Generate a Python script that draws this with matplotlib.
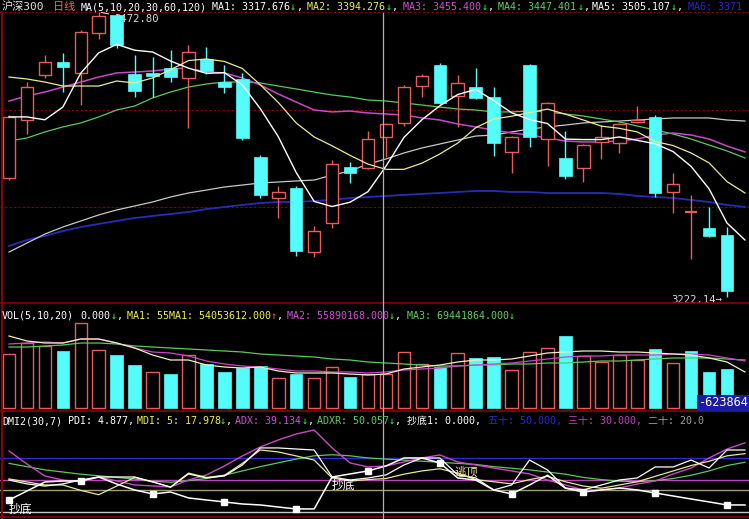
import matplotlib.pyplot as plt
from matplotlib.lines import Line2D

plt.rcParams['font.family'] = ['DejaVu Sans Mono', 'Noto Sans CJK SC']

W, H = 749, 519

# daily candles (HS300)
opens = [3326.8, 3377.8, 3417.4, 3428.8, 3419.2, 3454.3, 3470.2, 3418.3, 3419.2, 3423.5,
         3414.8, 3431.5, 3411.2, 3413.9, 3345.3, 3309.2, 3318.0, 3261.7, 3287.2, 3336.5,
         3335.6, 3362.9, 3375.2, 3407.7, 3426.2, 3398.9, 3406.8, 3398.0, 3349.7, 3426.2,
         3361.1, 3344.4, 3335.6, 3358.5, 3357.6, 3376.1, 3380.5, 3314.5, 3297.0, 3282.8,
         3276.7]
highs = [3382.2, 3411.2, 3435.0, 3436.7, 3457.0, 3472.8, 3471.0, 3435.0, 3433.2, 3439.4,
         3443.8, 3442.0, 3426.2, 3419.2, 3347.0, 3319.8, 3319.8, 3284.6, 3342.6, 3340.9,
         3368.1, 3374.8, 3408.6, 3418.3, 3427.9, 3417.4, 3423.5, 3406.8, 3363.5, 3427.1,
         3393.5, 3368.1, 3356.5, 3373.4, 3375.0, 3390.1, 3382.2, 3331.2, 3311.9, 3301.3,
         3283.7]
lows = [3325.0, 3365.5, 3414.8, 3402.4, 3391.0, 3449.1, 3441.1, 3398.0, 3398.0, 3411.2,
        3370.8, 3418.3, 3401.6, 3360.2, 3309.2, 3291.6, 3258.2, 3257.3, 3282.8, 3322.4,
        3335.0, 3345.3, 3372.5, 3398.0, 3392.0, 3371.7, 3396.5, 3346.2, 3331.2, 3354.1,
        3337.4, 3325.9, 3323.3, 3343.5, 3348.8, 3375.5, 3310.1, 3296.0, 3255.6, 3275.0,
        3222.14]
closes = [3380.5, 3406.8, 3428.8, 3424.4, 3455.2, 3469.3, 3443.8, 3403.3, 3416.5, 3415.6,
          3437.6, 3420.9, 3406.8, 3362.0, 3311.9, 3314.5, 3262.6, 3280.2, 3339.1, 3331.2,
          3361.1, 3374.3, 3406.8, 3416.5, 3392.8, 3410.4, 3397.2, 3357.6, 3362.9, 3362.9,
          3392.8, 3328.6, 3355.8, 3362.9, 3374.3, 3377.8, 3313.6, 3321.5, 3297.0, 3275.8,
          3227.4]

# moving averages (one more point than candles, line runs to the right edge)
ma1 = [3380.5, 3380.5, 3378.0, 3389.2, 3419.1, 3436.9, 3444.3, 3439.2, 3437.6, 3429.7,
       3423.4, 3418.8, 3419.5, 3408.6, 3387.8, 3363.2, 3331.6, 3306.2, 3301.7, 3305.5,
       3314.8, 3337.2, 3362.5, 3378.0, 3390.3, 3400.2, 3404.7, 3394.9, 3384.2, 3378.2,
       3374.7, 3361.0, 3360.6, 3360.6, 3362.9, 3359.9, 3356.9, 3350.0, 3337.0, 3317.3,
       3287.2, 3272.3]
ma2 = [3415.6, 3413.9, 3411.2, 3407.7, 3407.7, 3407.7, 3412.1, 3410.4, 3414.8, 3422.0,
       3430.1, 3431.5, 3429.3, 3423.1, 3408.8, 3393.3, 3375.2, 3362.9, 3355.1, 3346.7,
       3339.0, 3334.4, 3334.4, 3339.8, 3347.9, 3357.5, 3371.0, 3378.7, 3381.1, 3384.3,
       3387.4, 3382.9, 3377.8, 3372.4, 3370.5, 3367.3, 3358.9, 3355.3, 3348.8, 3340.1,
       3323.6, 3313.6]
ma3 = [3394.5, 3398.9, 3402.4, 3406.8, 3411.2, 3415.6, 3419.2, 3420.0, 3420.9, 3422.7,
       3423.5, 3420.0, 3419.2, 3414.8, 3408.6, 3400.7, 3393.6, 3386.6, 3384.9, 3385.7,
       3384.0, 3383.1, 3382.2, 3379.6, 3377.8, 3374.3, 3371.7, 3369.0, 3366.4, 3364.6,
       3362.0, 3359.3, 3358.5, 3358.5, 3359.3, 3361.1, 3364.6, 3366.4, 3364.6, 3361.1,
       3354.9, 3349.7]
ma4 = [3359.3, 3362.0, 3367.3, 3371.7, 3375.2, 3380.5, 3386.6, 3390.1, 3397.2, 3402.4,
       3406.8, 3409.5, 3411.2, 3411.2, 3410.4, 3407.7, 3405.1, 3402.4, 3399.8, 3398.0,
       3395.4, 3394.5, 3392.8, 3391.0, 3389.2, 3387.5, 3386.6, 3384.9, 3384.9, 3385.7,
       3384.9, 3383.1, 3381.3, 3378.7, 3376.1, 3372.5, 3369.0, 3365.5, 3361.1, 3355.8,
       3350.6, 3344.4]
ma5 = [3261.7, 3269.6, 3277.5, 3283.7, 3289.0, 3294.3, 3298.7, 3302.2, 3305.7, 3310.1,
       3313.6, 3316.2, 3318.9, 3320.6, 3322.4, 3323.3, 3324.2, 3325.0, 3329.4, 3332.9,
       3339.1, 3343.5, 3348.8, 3353.2, 3356.7, 3360.2, 3363.7, 3364.6, 3367.3, 3369.9,
       3371.7, 3373.4, 3375.2, 3376.1, 3376.9, 3377.8, 3378.7, 3379.6, 3379.6, 3379.6,
       3377.8, 3376.9]
ma6 = [3267.0, 3272.3, 3275.8, 3280.2, 3283.7, 3286.4, 3289.0, 3291.6, 3293.4, 3295.1,
       3296.9, 3299.5, 3301.3, 3303.1, 3304.8, 3305.7, 3305.7, 3306.6, 3307.5, 3309.2,
       3310.1, 3311.0, 3311.9, 3312.8, 3313.6, 3314.5, 3315.4, 3315.4, 3314.5, 3314.5,
       3313.6, 3313.6, 3313.6, 3313.6, 3312.8, 3311.0, 3310.1, 3309.2, 3307.5, 3305.7,
       3303.1, 3301.3]

# volume (millions)
vol = [54, 65, 62, 57, 85, 58, 53, 43, 36, 34, 53, 44, 36, 40, 42, 30, 34, 30, 41, 31,
       34, 34, 56, 44, 41, 55, 50, 51, 38, 56, 60, 72, 52, 46, 53, 48, 59, 45, 57, 36, 39]
vol_up = [1, 1, 1, 0, 1, 1, 0, 0, 1, 0, 1, 0, 0, 0, 0, 1, 0, 1, 1, 0,
          1, 1, 1, 1, 0, 1, 0, 0, 1, 1, 1, 0, 1, 1, 1, 1, 0, 1, 0, 0, 0]
vma1 = [72, 67, 65, 65, 69, 69, 65, 60, 53, 48, 48, 43, 41, 40, 41, 37, 35, 35, 35, 34, 33,
        34, 39, 41, 43, 46, 48, 48, 49, 52, 55, 56, 57, 57, 56, 56, 55, 54, 53, 50, 46, 36]
vma2 = [64, 65, 66, 65, 69, 69, 65, 60, 56, 55, 52, 47, 44, 42, 41, 39, 37, 37, 36, 36, 35,
        36, 38, 39, 40, 42, 43, 44, 45, 47, 49, 51, 52, 52, 53, 53, 53, 54, 54, 53, 50, 47]
vma3 = [61, 61, 62, 63, 65, 65, 64, 62, 61, 60, 59, 58, 57, 56, 54, 53, 52, 51, 49, 48, 46,
        45, 44, 43, 42, 42, 43, 43, 44, 44, 45, 45, 46, 47, 47, 48, 49, 50, 50, 50, 49, 48]

# DMI
adx = [56.5, 44.4, 33.3, 29.6, 27.8, 32.4, 28.7, 25.0, 24.1, 23.1, 29.6, 34.3, 42.6, 51.9,
       60.2, 66.7, 72.2, 75.9, 59.3, 45.4, 41.7, 42.6, 46.3, 50.0, 52.8, 46.3, 43.5, 40.7,
       38.0, 35.2, 29.6, 25.0, 20.4, 20.4, 22.2, 25.9, 28.7, 35.2, 40.7, 50.0, 58.3, 64.0]
adxr = [45.0, 42.0, 39.0, 37.0, 35.0, 33.5, 32.0, 30.5, 28.5, 27.5, 29.0, 31.0, 34.0, 38.0,
        42.0, 45.5, 49.0, 52.0, 53.0, 52.0, 50.0, 49.0, 48.0, 47.0, 46.0, 45.0, 44.0, 42.0,
        40.5, 39.0, 37.0, 35.0, 32.0, 30.0, 28.5, 28.0, 29.0, 31.0, 34.0, 38.0, 43.0, 46.0]
pdi = [29.6, 26.0, 24.0, 26.0, 29.6, 32.4, 32.4, 32.4, 27.8, 23.1, 35.2, 31.5, 33.3, 43.5,
       59.3, 59.3, 58.3, 57.4, 32.4, 29.6, 31.5, 34.3, 43.5, 50.0, 50.0, 34.3, 31.5, 20.4,
       25.0, 48.1, 38.9, 22.2, 20.4, 25.0, 29.6, 31.5, 41.7, 41.7, 48.1, 40.7, 57.4, 57.4]
mdi = [30.6, 27.8, 25.0, 25.0, 20.0, 16.0, 24.0, 32.0, 28.0, 23.0, 36.0, 32.0, 34.0, 45.0,
       57.4, 55.6, 51.9, 48.1, 31.5, 28.7, 30.0, 31.0, 35.0, 38.0, 40.0, 36.0, 30.0, 28.0,
       26.0, 30.0, 33.0, 28.0, 24.0, 22.0, 25.0, 28.0, 33.0, 38.0, 43.0, 47.0, 52.0, 54.0]
bottom_line = [11.1, 19.4, 27.8, 28.7, 28.7, 32.4, 25.9, 20.4, 16.7, 18.5, 13.0, 11.1, 9.3,
               7.4, 6.5, 4.6, 2.8, 2.8, 32.4, 35.2, 38.0, 42.6, 50.0, 50.0, 45.4, 31.5, 29.6,
               20.4, 16.7, 25.0, 34.0, 22.0, 18.5, 20.4, 22.2, 20.4, 17.6, 14.8, 12.0, 9.3,
               6.5, 6.5]
levels = [50, 30, 20, 0]
level_colors = ['#2a2ad0', '#c040c0', '#a0a070', '#c8c8c8']

UP = '#e85c5c'
DOWN = '#54fcfc'
BORDER = '#8a0000'

fig = plt.figure(figsize=(W / 100, H / 100), dpi=100, facecolor='black')


def panel(top, bottom):
    ax = fig.add_axes([0, 1 - bottom / H, 1, (bottom - top) / H])
    ax.set_facecolor('black')
    ax.set_xlim(-0.501, 41.225)
    ax.set_xticks([])
    ax.set_yticks([])
    for s in ax.spines.values():
        s.set_visible(False)
    return ax


def put(x, y, s, color, size=7.2, **kw):
    fig.text(x / W, 1 - y / H, s, color=color, fontsize=size, va='center', ha='left', **kw)


n = len(closes)
idx = list(range(n))
idx_ma = list(range(n + 1))

# ---- price panel
ax = panel(0, 303)
ax.set_ylim(3216.86, 3483.35)
for g in [3472.8, 3386.6, 3301.3]:
    ax.axhline(g, color=BORDER, lw=0.8, ls=(0, (2, 2)))
for i in idx:
    o, h, l, c = opens[i], highs[i], lows[i], closes[i]
    col = UP if c >= o else DOWN
    ax.vlines(i, l, h, color=col, lw=1.0, zorder=3)
    if abs(c - o) < 1.0:
        ax.hlines(o, i - 0.35, i + 0.35, color=col, lw=1.6, zorder=4)
    elif c > o:
        ax.bar(i, c - o, bottom=o, width=0.7, facecolor='black', edgecolor=UP, lw=1.0, zorder=4)
    else:
        ax.bar(i, o - c, bottom=c, width=0.7, facecolor=DOWN, edgecolor=DOWN, lw=0.5, zorder=4)
ax.plot(idx_ma, ma6, color='#2a2ab8', lw=1.3, zorder=2)
ax.plot(idx_ma, ma5, color='#c8c8c8', lw=0.9, zorder=2)
ax.plot(idx_ma, ma4, color='#5cc85c', lw=0.9, zorder=2)
ax.plot(idx_ma, ma3, color='#c848c8', lw=1.1, zorder=2)
ax.plot(idx_ma, ma2, color='#eaea98', lw=0.9, zorder=5)
ax.plot(idx_ma, ma1, color='white', lw=1.0, zorder=5)
ax.annotate('3472.80', xy=(5, highs[5]), xytext=(5.85, 3466.5), color='#d8d8d8',
            fontsize=7.6, va='center', ha='left',
            arrowprops=dict(arrowstyle='-', color='#d8d8d8', lw=0.8))
ax.text(39.75, 3216.86 + 2.5, '3222.14\u2192', color='#d8d8d8', fontsize=7.6,
        va='center', ha='right')

# ---- volume panel
av = panel(303, 411)
av.set_ylim(-3, 105)
for i in idx:
    if vol_up[i]:
        av.bar(i, vol[i], width=0.7, facecolor='black', edgecolor=UP, lw=1.0)
    else:
        av.bar(i, vol[i], width=0.7, facecolor=DOWN, edgecolor=DOWN, lw=0.5)
av.plot(idx_ma, vma3, color='#5cc85c', lw=0.9)
av.plot(idx_ma, vma2, color='#c848c8', lw=0.9)
av.plot(idx_ma, vma1, color='#f0f0c0', lw=0.9)

# ---- DMI panel
ad = panel(411, 519)
ad.set_ylim(-6.5, 93.5)
for lv, lc in zip(levels, level_colors):
    ad.axhline(lv, color=lc, lw=1.0)
ad.plot(idx_ma, adxr, color='#5cc85c', lw=0.9)
ad.plot(idx_ma, adx, color='#c848c8', lw=1.0)
ad.plot(idx_ma, mdi, color='#e8e890', lw=0.9)
ad.plot(idx_ma, pdi, color='white', lw=0.9)
ad.plot(idx_ma, bottom_line, color='white', lw=1.1)
ad.plot(idx_ma[::4], bottom_line[::4], ls='none', marker='s', ms=4.5, color='white')
ad.text(0.0, 2.5, '抄底', color='white', fontsize=8.5, va='center', ha='left')
ad.text(18.0, 25.0, '抄底', color='white', fontsize=8.5, va='center', ha='left')
ad.text(24.8, 37.0, '逃顶', color='#f0e090', fontsize=8.5, va='center', ha='left')

# ---- frame lines, crosshair
for y in [303, 411, 517]:
    fig.add_artist(Line2D([0, 1], [1 - y / H] * 2, color=BORDER, lw=1.2))
fig.add_artist(Line2D([1.5 / W] * 2, [0, 1 - 12 / H], color=BORDER, lw=1.5))
fig.add_artist(Line2D([383 / W] * 2, [0, 1 - 13 / H], color='#b0b0b0', lw=0.9))

# ---- title rows
GR = '#40ff40'
put(2, 7, '沪深300', '#e0e0e0', 8.0)
put(53, 7, '日线', '#ff6060', 8.0)
put(81, 7, 'MA(5,10,20,30,60,120)', 'white')
put(212, 7, 'MA1: 3317.676', 'white')
put(290, 7, '\u2193', GR)
put(297, 7, ',', 'white')
put(307, 7, 'MA2: 3394.276', '#f0f050')
put(386, 7, '\u2193', GR)
put(392, 7, ',', 'white')
put(403, 7, 'MA3: 3455.400', '#d050d0')
put(482, 7, '\u2193', GR)
put(488, 7, ',', 'white')
put(498, 7, 'MA4: 3447.401', '#60d060')
put(578, 7, '\u2193', GR)
put(584, 7, ',', 'white')
put(592, 7, 'MA5: 3505.107', 'white')
put(671, 7, '\u2193', GR)
put(677, 7, ',', 'white')
put(688, 7, 'MA6: 3371', '#2a2ad0')

put(2, 316, 'VOL(5,10,20)', 'white')
put(80, 316, '0.000', 'white')
put(111, 316, '\u2193', GR)
put(117, 316, ',', 'white')
put(127, 316, 'MA1: 55MA1: 54053612.000', '#f0f050')
put(271, 316, '\u2191', '#ff5050')
put(277, 316, ',', 'white')
put(287, 316, 'MA2: 55890168.000', '#d050d0')
put(389, 316, '\u2193', GR)
put(395, 316, ',', 'white')
put(407, 316, 'MA3: 69441864.000', '#60d060')
put(509, 316, '\u2193', GR)

put(2, 421, 'DMI2(30,7)', 'white')
put(68, 421, 'PDI: 4.877,', 'white')
put(137, 421, 'MDI: 5: 17.978', '#f0f050')
put(220, 421, '\u2193', GR)
put(226, 421, ',', 'white')
put(235, 421, 'ADX: 39.134', '#d050d0')
put(302, 421, '\u2193', GR)
put(308, 421, ',', 'white')
put(317, 421, 'ADXR: 50.057', '#60d060')
put(389, 421, '\u2193', GR)
put(395, 421, ',', 'white')
put(407, 421, '抄底1: 0.000,', 'white')
put(488, 421, '五十: 50.000,', '#2a2ad0')
put(568, 421, '三十: 30.000,', '#c040c0')
put(648, 421, '二十: 20.0', '#a0a0a0')

put(699, 403, '-623864', 'white', 8.6,
    bbox=dict(boxstyle='square,pad=0.15', facecolor='#1c1ca0', edgecolor='none'))

fig.savefig('out.png', dpi=100, facecolor='black')
